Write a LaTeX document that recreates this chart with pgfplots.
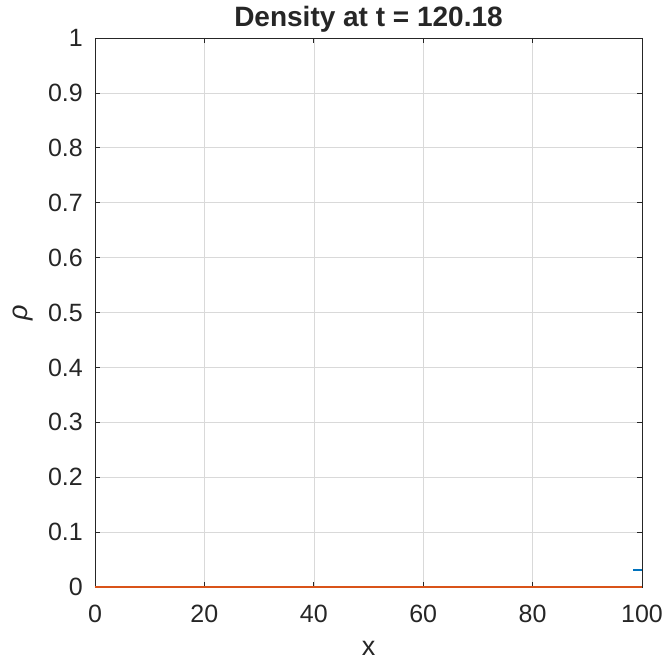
\documentclass[border=0pt]{standalone}
\usepackage{pgfplots}
\pgfplotsset{compat=1.18}
\usepackage{fontspec}
\setmainfont{Liberation Sans}
\definecolor{mblue}{rgb}{0,0.447,0.741}
\definecolor{morange}{rgb}{0.85,0.325,0.098}
\definecolor{axc}{rgb}{0.15,0.15,0.15}
\begin{document}
\begin{tikzpicture}
\begin{axis}[
  scale only axis,
  width=547bp, height=549bp,
  xmin=0, xmax=100, ymin=0, ymax=1,
  xtick={0,20,...,100},
  ytick={0,0.1,...,1},
  yticklabels={0,0.1,0.2,0.3,0.4,0.5,0.6,0.7,0.8,0.9,1},
  /pgf/number format/assume math mode=true,
  tick label style={font=\fontsize{25bp}{30bp}\selectfont, color=axc, inner sep=0pt},
  xticklabel style={anchor=base, yshift=-35bp},
  yticklabel style={anchor=east, xshift=-12bp},
  grid=major,
  grid style={color=black!15, line width=0.6pt},
  axis line style={color=axc, line width=0.7pt},
  tick style={color=axc, line width=0.7pt},
  major tick length=5.5bp,
  tick align=inside,
  xtick pos=both, ytick pos=both,
  title={\textbf{Density at t = 120.18}},
  title style={font=\fontsize{28bp}{32bp}\selectfont, color=axc, at={(0.5,1)}, anchor=base, yshift=6bp, inner sep=0pt},
  xlabel={x},
  ylabel={\textit{ρ}},
  xlabel style={font=\fontsize{27bp}{30bp}\selectfont, color=axc, at={(0.5,0)}, anchor=center, yshift=-61bp},
  ylabel style={font=\fontsize{27bp}{30bp}\selectfont, color=axc, at={(0,0.5)}, anchor=center, yshift=72bp},
]
\addplot[morange, line width=1.3pt] coordinates {(0,0) (100,0)};
\addplot[mblue, line width=1.3pt] coordinates {(98.4,0.031) (100,0.031)};
\end{axis}
\path (current axis.south west) ++(-95bp,-73bp) coordinate (bba);
\path (current axis.north east) ++(27bp,38bp) coordinate (bbb);
\pgfresetboundingbox
\path[use as bounding box] (bba) rectangle (bbb);
\end{tikzpicture}
\end{document}
